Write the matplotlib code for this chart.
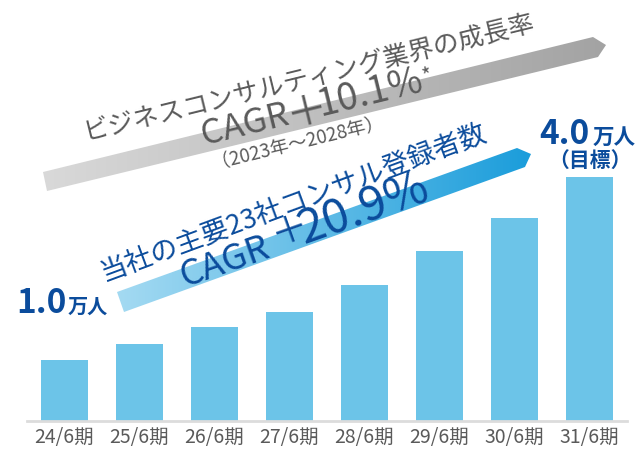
import numpy as np
import matplotlib
matplotlib.use("Agg")
import matplotlib.pyplot as plt
from matplotlib.patches import Polygon
from matplotlib.colors import LinearSegmentedColormap

plt.rcParams["font.family"] = ["Noto Sans CJK JP", "DejaVu Sans"]

# data (万人)
periods = ["24/6期", "25/6期", "26/6期", "27/6期", "28/6期", "29/6期", "30/6期", "31/6期"]
members = [1.0, 1.25, 1.53, 1.78, 2.23, 2.78, 3.33, 4.0]

BAR = "#6cc4e8"
NAVY = "#0b4c9c"
GREY_TXT = "#5a5a5a"

W, H = 641, 449
fig = plt.figure(figsize=(W / 100, H / 100), dpi=100)

# bar chart
ax = fig.add_axes([27 / W, (H - 420.5) / H, 600 / W, 420.5 / H])
x = np.arange(len(periods))
ax.bar(x, members, width=0.62, color=BAR, zorder=2)
ax.set_xlim(-0.5, 7.5)
ax.set_ylim(0, 4.0 * 420.5 / 243.5)
ax.set_xticks(x)
ax.set_xticklabels(periods, fontsize=14, color=GREY_TXT)
ax.tick_params(axis="x", length=0, pad=5)
ax.set_yticks([])
for s in ["top", "right", "left"]:
    ax.spines[s].set_visible(False)
ax.spines["bottom"].set_color("#dcdcdc")
ax.spines["bottom"].set_linewidth(2)

# overlay in pixel coordinates for arrows and annotations
ov = fig.add_axes([0, 0, 1, 1])
ov.patch.set_alpha(0)


def grad_arrow(pts, c0, c1):
    poly = Polygon(pts, closed=True, facecolor="none", edgecolor="none")
    ov.add_patch(poly)
    xs = [p[0] for p in pts]
    ys = [p[1] for p in pts]
    cmap = LinearSegmentedColormap.from_list("g", [c0, c1])
    g = np.linspace(0, 1, 256).reshape(1, -1)
    im = ov.imshow(g, cmap=cmap, aspect="auto",
                   extent=[min(xs), max(xs), max(ys), min(ys)], interpolation="bilinear")
    im.set_clip_path(poly)


grad_arrow([(43, 172), (593, 37), (606, 45), (598, 57), (47, 191)], "#d9d9d9", "#a3a3a3")
grad_arrow([(117, 292), (517, 148), (531, 154), (525, 167), (124, 312)], "#a4daf2", "#1b9ddb")

ov.set_xlim(0, W)
ov.set_ylim(H, 0)
ov.axis("off")


def along(x0, y0, ang, s, up=0.0):
    # point s px along a baseline of angle ang (deg), shifted "up" px normal to it
    a = np.radians(ang)
    return x0 + s * np.cos(a) - up * np.sin(a), y0 - s * np.sin(a) - up * np.cos(a)


kw = dict(rotation_mode="anchor", ha="left", va="baseline")
kc = dict(rotation_mode="anchor", ha="center", va="center")

# industry growth (grey)
ga = 13.8
ov.text(86, 141, "ビジネスコンサルティング業界の成長率", fontsize=18.5, color=GREY_TXT, rotation=ga, **kw)
ov.text(204, 145, "CAGR", fontsize=25, color=GREY_TXT, rotation=ga, **kw)
ov.text(307, 113, "＋", fontsize=30, color=GREY_TXT, rotation=ga, **kc)
ov.text(*along(204, 145, ga, 120), "10.1%", fontsize=27, color=GREY_TXT, rotation=ga, **kw)
ov.text(424, 84, "*", fontsize=15, color=GREY_TXT, rotation=ga, **kw)
ov.text(213, 166, "（2023年～2028年）", fontsize=13.5, color=GREY_TXT, rotation=ga, **kw)

# registrations (blue)
ba = 19.5
ov.text(104, 280, "当社の主要23社コンサル登録者数", fontsize=19.5, color=NAVY,
        rotation=20.3, **kw)
ov.text(185, 287, "CAGR", fontsize=26, color=NAVY, rotation=ba, **kw)
ov.text(290, 231, "＋", fontsize=27, color=NAVY, rotation=ba, **kc)
ov.text(*along(185, 287, ba, 126), "20.9%", fontsize=34, color=NAVY, rotation=ba, **kw)

# start / target labels
ov.text(16, 313, "1.0", fontsize=24, color=NAVY, fontweight="bold", **kw)
ov.text(68, 313, "万人", fontsize=14.5, color=NAVY, fontweight="bold", **kw)
ov.text(539, 144, "4.0", fontsize=24, color=NAVY, fontweight="bold", **kw)
ov.text(593, 144, "万人", fontsize=15.5, color=NAVY, fontweight="bold", **kw)
ov.text(590, 167, "（目標）", fontsize=15, color=NAVY, fontweight="bold",
        rotation_mode="anchor", ha="center", va="baseline")

fig.savefig("out.png", dpi=100)
